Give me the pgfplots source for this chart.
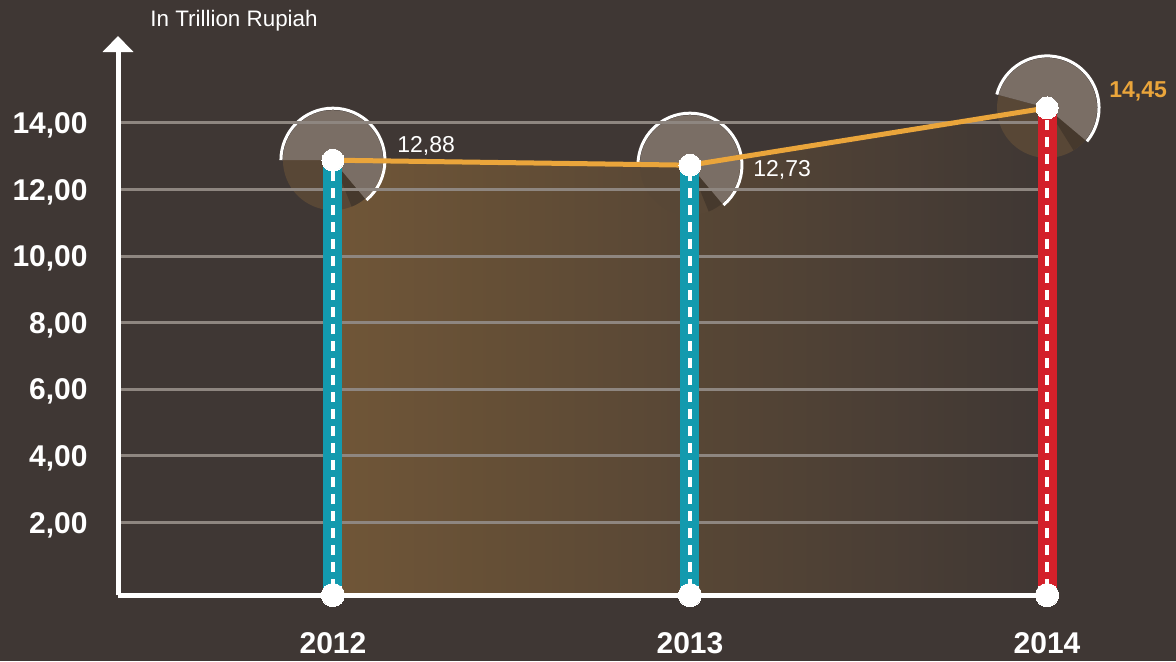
\documentclass[border=0pt]{standalone}
\usepackage{pgfplots}
\pgfplotsset{compat=1.18}
\usepackage{fontspec}
\setmainfont{Liberation Sans}
\usetikzlibrary{arrows.meta}
\definecolor{bg}{RGB}{63,55,52}
\definecolor{gridc}{RGB}{142,134,128}
\definecolor{fillL}{RGB}{112,86,55}
\definecolor{pielight}{RGB}{122,110,101}
\definecolor{piedark}{RGB}{88,71,54}
\definecolor{pieshadow}{RGB}{70,57,45}
\definecolor{tealbar}{RGB}{19,154,174}
\definecolor{redbar}{RGB}{211,32,42}
\definecolor{orangeline}{RGB}{234,165,59}

\pgfdeclareplotmark{pieA}{%
  \pgfpathmoveto{\pgfpointorigin}%
  \pgfpathlineto{\pgfpointpolar{180}{25pt}}%
  \pgfpatharc{180}{310}{25pt}%
  \pgfpathclose
  \pgfsetfillcolor{piedark}%
  \pgfusepath{fill}%
  \pgfpathmoveto{\pgfpointorigin}%
  \pgfpathlineto{\pgfpointpolar{292}{25pt}}%
  \pgfpatharc{292}{310}{25pt}%
  \pgfpathclose
  \pgfsetfillcolor{pieshadow}%
  \pgfusepath{fill}%
  \pgfpathmoveto{\pgfpointorigin}%
  \pgfpathlineto{\pgfpointpolar{-50}{25pt}}%
  \pgfpatharc{-50}{180}{25pt}%
  \pgfpathclose
  \pgfsetfillcolor{pielight}%
  \pgfusepath{fill}%
  \pgfpathmoveto{\pgfpointpolar{180}{26pt}}%
  \pgfpatharc{180}{-50}{26pt}%
  \pgfsetstrokecolor{white}\pgfsetlinewidth{1.5pt}%
  \pgfusepath{stroke}%
}
\pgfdeclareplotmark{pieB}{%
  \pgfpathmoveto{\pgfpointorigin}%
  \pgfpathlineto{\pgfpointpolar{165}{25pt}}%
  \pgfpatharc{165}{320}{25pt}%
  \pgfpathclose
  \pgfsetfillcolor{piedark}%
  \pgfusepath{fill}%
  \pgfpathmoveto{\pgfpointorigin}%
  \pgfpathlineto{\pgfpointpolar{302}{25pt}}%
  \pgfpatharc{302}{320}{25pt}%
  \pgfpathclose
  \pgfsetfillcolor{pieshadow}%
  \pgfusepath{fill}%
  \pgfpathmoveto{\pgfpointorigin}%
  \pgfpathlineto{\pgfpointpolar{-40}{25pt}}%
  \pgfpatharc{-40}{165}{25pt}%
  \pgfpathclose
  \pgfsetfillcolor{pielight}%
  \pgfusepath{fill}%
  \pgfpathmoveto{\pgfpointpolar{165}{26pt}}%
  \pgfpatharc{165}{-40}{26pt}%
  \pgfsetstrokecolor{white}\pgfsetlinewidth{1.5pt}%
  \pgfusepath{stroke}%
}

\begin{document}
\begin{tikzpicture}[x=1pt,y=1pt]
\begin{axis}[
  at={(59pt,33pt)}, anchor=south west,
  width=464.5pt, height=279.5pt, scale only axis,
  xmin=-0.602, xmax=2, ymin=-0.18, ymax=16.61,
  clip=false, set layers,
  axis lines=left,
  x axis line style={-, white, line width=2.5pt},
  y axis line style={-{Triangle[width=15pt,length=8pt]}, white, line width=2.5pt},
  major tick length=0pt,
  xtick={0,1,2}, xticklabels={2012,2013,2014},
  ytick={2,4,6,8,10,12,14},
  yticklabels={{2,00},{4,00},{6,00},{8,00},{10,00},{12,00},{14,00}},
  ymajorgrids, grid style={gridc, line width=1.5pt},
  yticklabel style={font=\fontsize{15pt}{17pt}\selectfont\bfseries, text=white, anchor=base east, inner sep=0pt, xshift=-15pt, yshift=-5.3pt},
  xticklabel style={font=\fontsize{15pt}{17pt}\selectfont\bfseries, text=white, anchor=base, inner sep=0pt, yshift=-29pt},
]
% page background (whole picture)
\addplot[on layer=axis background, fill=bg, draw=none]
  coordinates {(-0.9328,-2.163) (2.3613,-2.163) (2.3613,17.69) (-0.9328,17.69)} -- cycle;
% gradient area under the line
\addplot[on layer=axis background, draw=none, left color=fillL, right color=bg]
  coordinates {(0,-0.18) (0,12.88) (1,12.73) (2,14.45) (2,-0.18)} -- cycle;
% pie markers
\addplot[on layer=axis background, mark layer=like plot, only marks, mark=pieA] coordinates {(0,12.88) (1,12.73)};
\addplot[on layer=axis background, mark layer=like plot, only marks, mark=pieB] coordinates {(2,14.45)};
% bars
\addplot[ycomb, line width=9.5pt, tealbar] coordinates {(0,12.88) (1,12.73)};
\addplot[ycomb, line width=9.5pt, redbar] coordinates {(2,14.45)};
\addplot[ycomb, line width=2pt, white, dash pattern=on 5pt off 3.5pt] coordinates {(0,12.88) (1,12.73) (2,14.45)};
% line
\addplot[orangeline, line width=2.5pt, mark=*, mark size=5.5pt, mark options={fill=white, draw=white, line width=0pt}]
  coordinates {(0,12.88) (1,12.73) (2,14.45)};
% bottom dots
\addplot[only marks, mark=*, mark size=5.8pt, mark options={fill=white, draw=white, line width=0pt}]
  coordinates {(0,-0.18) (1,-0.18) (2,-0.18)};
% value labels
\addplot[draw=none, mark=none, nodes near coords, point meta=explicit symbolic,
  nodes near coords style={anchor=west, xshift=32pt, yshift=7pt, inner sep=0pt, font=\fontsize{11.5pt}{13pt}\selectfont, text=white}]
  coordinates {(0,12.88) [12,88]};
\addplot[draw=none, mark=none, nodes near coords, point meta=explicit symbolic,
  nodes near coords style={anchor=west, xshift=31.5pt, yshift=-2.5pt, inner sep=0pt, font=\fontsize{11.5pt}{13pt}\selectfont, text=white}]
  coordinates {(1,12.73) [12,73]};
\addplot[draw=none, mark=none, nodes near coords, point meta=explicit symbolic,
  nodes near coords style={anchor=west, xshift=31pt, yshift=8.5pt, inner sep=0pt, font=\fontsize{11.5pt}{13pt}\selectfont\bfseries, text=orangeline}]
  coordinates {(2,14.45) [14,45]};
\node[anchor=west, inner sep=0pt, text=white, font=\fontsize{11.2pt}{13pt}\selectfont]
  at (rel axis cs:0,1) [xshift=16pt, yshift=7.5pt] {In Trillion Rupiah};
\end{axis}
\pgfresetboundingbox
\path (0,0) rectangle (588,330.5);
\end{tikzpicture}
\end{document}
